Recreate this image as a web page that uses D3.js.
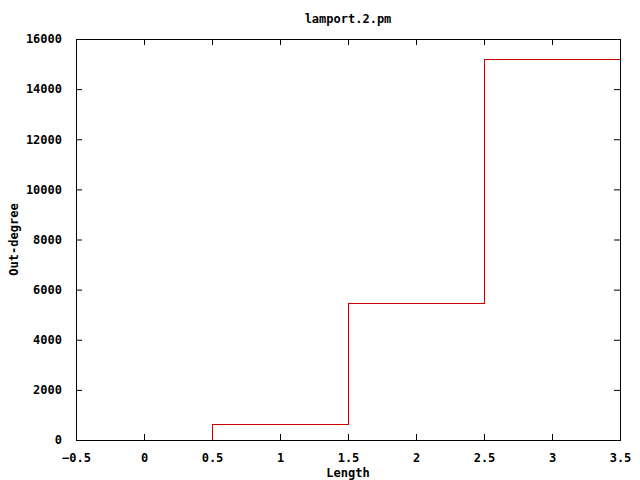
<!DOCTYPE html>
<html>
<head>
<meta charset="utf-8">
<script src="https://cdn.jsdelivr.net/npm/d3@7"></script>
<style>
  body { margin: 0; background: #fff; }
  text { font-family: "DejaVu Sans Mono", monospace; font-weight: bold; font-size: 12px; fill: #000; }
</style>
</head>
<body>
<div id="chart"></div>
<script>
// data
var lengths = [0, 1, 2, 3];
var outDegree = [0, 600, 5450, 15200];
var xTicks = [-0.5, 0, 0.5, 1, 1.5, 2, 2.5, 3, 3.5];
var yTicks = [0, 2000, 4000, 6000, 8000, 10000, 12000, 14000, 16000];

var svgWidth = 640;
var svgHeight = 480;

var margin = { top: 39, right: 20, bottom: 40, left: 76 };
var width = svgWidth - margin.left - margin.right;
var height = svgHeight - margin.top - margin.bottom;

var svg = d3.select("#chart")
  .append("svg")
  .attr("width", svgWidth)
  .attr("height", svgHeight);

var chartGroup = svg.append("g")
  .attr("transform", `translate(${margin.left}, ${margin.top})`);

var xScale = d3.scaleLinear().domain([-0.5, 3.5]).range([0, width]);
var yScale = d3.scaleLinear().domain([0, 16000]).range([height, 0]);

// ticks point inward, mirrored on top and right
var tickLen = 6;

var bottomAxis = d3.axisBottom(xScale).tickValues(xTicks).tickSize(-tickLen).tickPadding(tickLen + 7)
  .tickFormat(d3.format(""));
var topAxis = d3.axisTop(xScale).tickValues(xTicks).tickSize(-tickLen).tickFormat("");
var leftAxis = d3.axisLeft(yScale).tickValues(yTicks).tickSize(-tickLen).tickPadding(tickLen + 8)
  .tickFormat(d3.format("d"));
var rightAxis = d3.axisRight(yScale).tickValues(yTicks).tickSize(-tickLen).tickFormat("");

function styleAxis(g) {
  g.select(".domain").remove();
  g.selectAll("line").attr("stroke", "#000");
  g.selectAll("text").attr("font-family", null).attr("font-size", null);
}

chartGroup.append("g").attr("transform", `translate(0, ${height})`).call(bottomAxis).call(styleAxis);
chartGroup.append("g").call(topAxis).call(styleAxis);
chartGroup.append("g").call(leftAxis).call(styleAxis);
chartGroup.append("g").attr("transform", `translate(${width}, 0)`).call(rightAxis).call(styleAxis);

// histeps style line
var steps = [];
lengths.forEach(function(x, i) {
  steps.push([x - 0.5, outDegree[i]]);
  steps.push([x + 0.5, outDegree[i]]);
});

var line = d3.line()
  .x(d => xScale(d[0]))
  .y(d => yScale(d[1]));

chartGroup.append("path")
  .datum(steps)
  .attr("d", line)
  .attr("fill", "none")
  .attr("stroke", "#cc0000")
  .attr("stroke-width", 1)
  .attr("shape-rendering", "crispEdges");

// border
chartGroup.append("rect")
  .attr("width", width)
  .attr("height", height)
  .attr("fill", "none")
  .attr("stroke", "#000")
  .attr("shape-rendering", "crispEdges");

// labels
svg.append("text")
  .attr("x", margin.left + width / 2)
  .attr("y", 23)
  .attr("text-anchor", "middle")
  .text("lamport.2.pm");

svg.append("text")
  .attr("x", margin.left + width / 2)
  .attr("y", 477)
  .attr("text-anchor", "middle")
  .text("Length");

svg.append("text")
  .attr("transform", `translate(18, ${margin.top + height / 2}) rotate(-90)`)
  .attr("text-anchor", "middle")
  .text("Out-degree");
</script>
</body>
</html>
